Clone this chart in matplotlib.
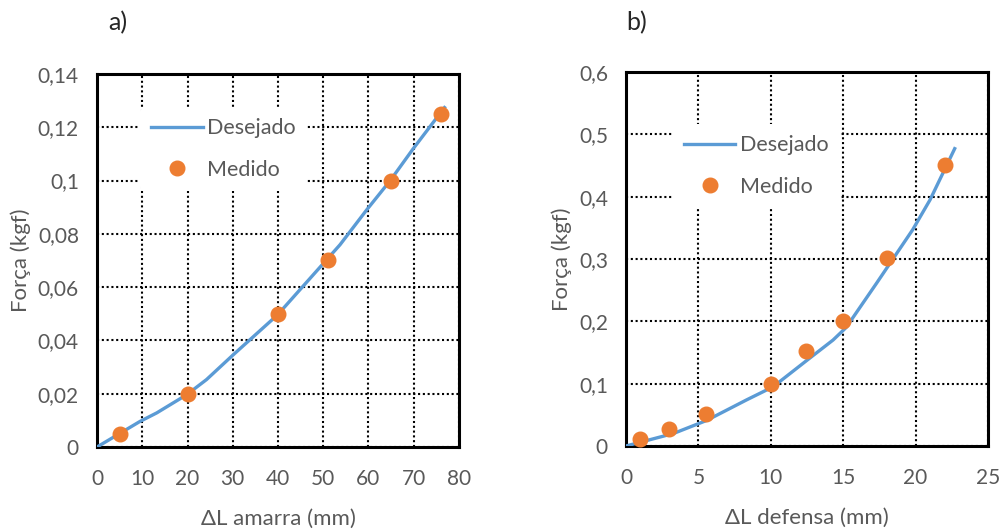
import matplotlib
matplotlib.use("Agg")
import matplotlib.pyplot as plt
from matplotlib.ticker import MultipleLocator, FuncFormatter

plt.rcParams['font.family'] = ['Lato', 'DejaVu Sans']

# Panel a data
a_des_x = [0, 9.5, 13.2, 19.8, 24.2, 30.1, 39.9, 53.7, 59.6, 64.8, 69.9, 76.8]
a_des_y = [0, 0.0096, 0.0128, 0.0196, 0.0253, 0.0346, 0.0496, 0.0759, 0.089, 0.100, 0.112, 0.1274]
a_med_x = [5, 20, 40, 51, 65, 76]
a_med_y = [0.005, 0.02, 0.05, 0.07, 0.10, 0.125]

# Panel b data
b_des_x = [0, 3.27, 5.57, 8.33, 10.16, 12.47, 14.3, 15.2, 17.3, 19.8, 21.0, 22.7]
b_des_y = [0, 0.020, 0.041, 0.074, 0.095, 0.137, 0.170, 0.190, 0.261, 0.347, 0.395, 0.477]
b_med_x = [1, 3, 5.5, 10, 12.4, 15, 18, 22]
b_med_y = [0.012, 0.027, 0.051, 0.10, 0.152, 0.20, 0.302, 0.451]

LINE_C = '#5B9BD5'
MARK_C = '#ED7D31'
TXT_C = '#595959'

def fmt(v, pos):
    s = '{:g}'.format(round(v, 6))
    return s.replace('.', ',')

fig = plt.figure(figsize=(10, 5.3), dpi=100)
ax1 = fig.add_axes([0.097, 0.1566, 0.362, 0.7038])
ax2 = fig.add_axes([0.626, 0.1585, 0.362, 0.7057])

def style(ax, xmax, xstep, ymax, ystep, xlabel, legend_anchor):
    ax.set_xlim(0, xmax)
    ax.set_ylim(0, ymax)
    ax.xaxis.set_major_locator(MultipleLocator(xstep))
    ax.yaxis.set_major_locator(MultipleLocator(ystep))
    ax.xaxis.set_major_formatter(FuncFormatter(fmt))
    ax.yaxis.set_major_formatter(FuncFormatter(fmt))
    ax.grid(True, color='black', linestyle=(0, (1, 1.3)), linewidth=1.5)
    ax.set_axisbelow(True)
    for s in ax.spines.values():
        s.set_linewidth(2.2)
        s.set_color('black')
    ax.tick_params(length=0, labelsize=15, colors=TXT_C)
    ax.tick_params(axis='x', pad=16)
    ax.tick_params(axis='y', pad=13)
    ax.set_xlabel(xlabel, fontsize=16, color=TXT_C, labelpad=14)
    ax.set_ylabel('Força (kgf)', fontsize=16, color=TXT_C, labelpad=5)
    leg = ax.legend(loc='upper left', bbox_to_anchor=legend_anchor, fontsize=15.5,
                    frameon=True, facecolor='white', edgecolor='none', framealpha=1,
                    handlelength=2.4, labelspacing=1.0, borderpad=0.5, handletextpad=0.2,
                    borderaxespad=0)
    for t in leg.get_texts():
        t.set_color(TXT_C)

ax1.plot(a_des_x, a_des_y, color=LINE_C, linewidth=2.4, label='Desejado', zorder=3)
ax1.plot(a_med_x, a_med_y, 'o', color=MARK_C, markersize=10.5, label='Medido', zorder=4, clip_on=False)
style(ax1, 80, 10, 0.14, 0.02, 'ΔL amarra (mm)', (0.12, 0.91))

ax2.plot(b_des_x, b_des_y, color=LINE_C, linewidth=2.4, label='Desejado', zorder=3)
ax2.plot(b_med_x, b_med_y, 'o', color=MARK_C, markersize=10.5, label='Medido', zorder=4, clip_on=False)
style(ax2, 25, 5, 0.6, 0.1, 'ΔL defensa (mm)', (0.13, 0.86))

fig.text(0.118, 0.958, 'a)', fontsize=18, color='#262626', ha='center', va='center')
fig.text(0.637, 0.958, 'b)', fontsize=18, color='#262626', ha='center', va='center')

fig.savefig('out.png', dpi=100)
